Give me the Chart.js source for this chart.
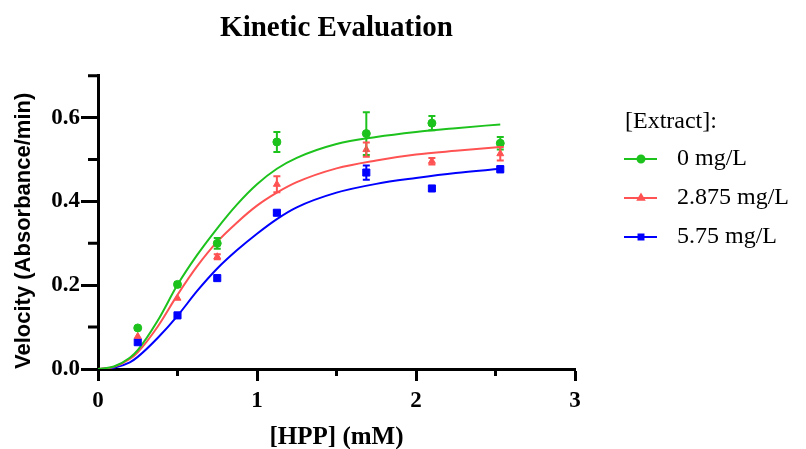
<!DOCTYPE html>
<html>
<head>
<meta charset="utf-8">
<title>Kinetic Evaluation</title>
<script src="https://cdn.jsdelivr.net/npm/chart.js@4.4.1/dist/chart.umd.min.js"></script>
<style>
  html, body { margin: 0; padding: 0; background: #fff; }
</style>
</head>
<body>
<canvas id="kinetic-chart" width="806" height="449"></canvas>
<script>
// substrate concentrations (mM) of the measured points
const hppConc = [0.25, 0.5, 0.75, 1.125, 1.6875, 2.1, 2.53];

// mean velocities and error bars, one pair per extract level
const vel0 = [0.098, 0.202, 0.300, 0.542, 0.562, 0.587, 0.539];
const err0 = [0, 0.005, 0.013, 0.024, 0.051, 0.017, 0.015];
const vel2875 = [0.078, 0.169, 0.268, 0.441, 0.524, 0.496, 0.514];
const err2875 = [0, 0, 0.006, 0.019, 0.017, 0.008, 0.016];
const vel575 = [0.064, 0.128, 0.217, 0.373, 0.469, 0.431, 0.477];
const err575 = [0, 0, 0, 0.005, 0.017, 0, 0.007];

// fitted curves
const fitX = [0, 0.1, 0.2, 0.25, 0.375, 0.5, 0.625, 0.75, 0.875, 1.0, 1.125, 1.25, 1.5, 1.75, 2.0, 2.25, 2.53];
const fit0 = [0, 0.006, 0.027, 0.045, 0.115, 0.201, 0.273, 0.336, 0.393, 0.441, 0.478, 0.504, 0.537, 0.554, 0.566, 0.575, 0.584];
const fit2875 = [0, 0.005, 0.024, 0.040, 0.101, 0.177, 0.246, 0.304, 0.350, 0.390, 0.421, 0.446, 0.479, 0.498, 0.512, 0.521, 0.530];
const fit575 = [0, 0.003, 0.016, 0.029, 0.074, 0.127, 0.187, 0.240, 0.284, 0.323, 0.358, 0.386, 0.421, 0.442, 0.456, 0.468, 0.478];

const legendTitle = '[Extract]:';
const seriesLabels = ['0 mg/L', '2.875 mg/L', '5.75 mg/L'];
const seriesColors = ['#1dc21d', '#ff5252', '#0000ff'];
const markerStyles = ['circle', 'triangle', 'rect'];

const xMinorTicks = [0.5, 1.5, 2.5];
const yMinorTicks = [0.1, 0.3, 0.5, 0.7];

const velocities = [vel0, vel2875, vel575];
const errors = [err0, err2875, err575];
const fits = [fit0, fit2875, fit575];

function toPoints(xs, ys) {
    return xs.map((x, i) => ({ x: x, y: ys[i] }));
}

let datasets = [];
// measured points first so they sit on top of the curves
velocities.forEach((v, i) => {
    datasets.push({
        label: seriesLabels[i],
        data: toPoints(hppConc, v),
        errorBars: errors[i],
        showLine: false,
        pointStyle: markerStyles[i],
        pointRadius: markerStyles[i] === 'rect' ? 5 : 4,
        pointBackgroundColor: seriesColors[i],
        pointBorderColor: seriesColors[i],
        pointBorderWidth: 1
    });
});
fits.forEach((f, i) => {
    datasets.push({
        label: seriesLabels[i] + ' fit',
        data: toPoints(fitX, f),
        showLine: true,
        borderColor: seriesColors[i],
        borderWidth: 2,
        pointRadius: 0,
        cubicInterpolationMode: 'monotone',
        fill: false
    });
});

// vertical error bars with small caps
const errorBarPlugin = {
    id: 'errorBars',
    afterDatasetsDraw(chart) {
        const ctx = chart.ctx;
        const xs = chart.scales.x;
        const ys = chart.scales.y;
        ctx.save();
        ctx.lineWidth = 2;
        chart.data.datasets.forEach((ds) => {
            if (!ds.errorBars) return;
            ctx.strokeStyle = ds.pointBorderColor;
            ds.data.forEach((p, i) => {
                let e = ds.errorBars[i];
                if (!e) return;
                let px = xs.getPixelForValue(p.x);
                let top = ys.getPixelForValue(p.y + e);
                let bot = ys.getPixelForValue(p.y - e);
                ctx.beginPath();
                ctx.moveTo(px, top); ctx.lineTo(px, bot);
                ctx.moveTo(px - 3.5, top); ctx.lineTo(px + 3.5, top);
                ctx.moveTo(px - 3.5, bot); ctx.lineTo(px + 3.5, bot);
                ctx.stroke();
            });
        });
        ctx.restore();
    }
};

// minor tick marks between the labelled ones
const minorTickPlugin = {
    id: 'minorTicks',
    afterDraw(chart) {
        const ctx = chart.ctx;
        const area = chart.chartArea;
        ctx.save();
        ctx.strokeStyle = '#000';
        ctx.lineWidth = 3;
        ctx.beginPath();
        xMinorTicks.forEach(v => {
            let px = chart.scales.x.getPixelForValue(v);
            ctx.moveTo(px, area.bottom);
            ctx.lineTo(px, area.bottom + 7);
        });
        yMinorTicks.forEach(v => {
            let py = chart.scales.y.getPixelForValue(v);
            ctx.moveTo(area.left - 10, py);
            ctx.lineTo(area.left, py);
        });
        ctx.stroke();
        ctx.restore();
    }
};

// legend on the right: short line with the marker in the middle
const sideLegendPlugin = {
    id: 'sideLegend',
    afterDraw(chart) {
        const ctx = chart.ctx;
        ctx.save();
        ctx.textAlign = 'left';
        ctx.textBaseline = 'middle';
        ctx.font = '24px "Liberation Serif"';
        ctx.fillStyle = '#000';
        ctx.fillText(legendTitle, 625, 122);
        seriesLabels.forEach((label, i) => {
            let y = 159 + i * 39;
            ctx.strokeStyle = seriesColors[i];
            ctx.fillStyle = seriesColors[i];
            ctx.lineWidth = 2;
            ctx.beginPath();
            ctx.moveTo(624, y);
            ctx.lineTo(657, y);
            ctx.stroke();
            Chart.helpers.drawPoint(ctx, { pointStyle: markerStyles[i], radius: 3.5, borderWidth: 1, rotation: 0 }, 641, y);
            ctx.fillStyle = '#000';
            ctx.fillText(label, 677, y);
        });
        ctx.restore();
    }
};

const tickFont = { family: 'Liberation Serif', size: 23, weight: 'bold' };

new Chart(document.getElementById('kinetic-chart').getContext('2d'), {
    type: 'scatter',
    data: { datasets: datasets },
    options: {
        responsive: false,
        animation: false,
        layout: { padding: { left: 0, right: 231, top: 0, bottom: 0 } },
        plugins: {
            legend: { display: false },
            tooltip: { enabled: false },
            title: {
                display: true,
                text: 'Kinetic Evaluation',
                color: '#000',
                fullSize: false,
                font: { family: 'Liberation Serif', size: 29, weight: 'bold' },
                padding: { top: 11, bottom: 30 }
            }
        },
        scales: {
            x: {
                type: 'linear',
                min: 0,
                max: 3,
                ticks: { stepSize: 1, color: '#000', font: tickFont, padding: 6 },
                grid: { drawOnChartArea: false, drawTicks: true, tickLength: 12, tickWidth: 3, tickColor: '#000' },
                border: { display: true, width: 3, color: '#000' },
                title: {
                    display: true,
                    text: '[HPP] (mM)',
                    color: '#000',
                    font: { family: 'Liberation Serif', size: 25, weight: 'bold' },
                    padding: { top: 0, bottom: -4 }
                },
                afterFit: (scale) => { scale.height = 80; }
            },
            y: {
                type: 'linear',
                min: 0,
                max: 0.7,
                ticks: {
                    stepSize: 0.2,
                    includeBounds: false,
                    color: '#000',
                    font: tickFont,
                    padding: 1,
                    callback: (v) => v.toFixed(1)
                },
                grid: { drawOnChartArea: false, drawTicks: true, tickLength: 17, tickWidth: 3, tickColor: '#000' },
                border: { display: true, width: 3, color: '#000' },
                title: {
                    display: true,
                    text: 'Velocity (Absorbance/min)',
                    align: 'start',
                    color: '#000',
                    font: { family: 'Liberation Sans', size: 22, weight: 'bold' },
                    padding: { top: 11, bottom: 0 }
                },
                afterFit: (scale) => { scale.width = 98; }
            }
        }
    },
    plugins: [errorBarPlugin, minorTickPlugin, sideLegendPlugin]
});
</script>
</body>
</html>
